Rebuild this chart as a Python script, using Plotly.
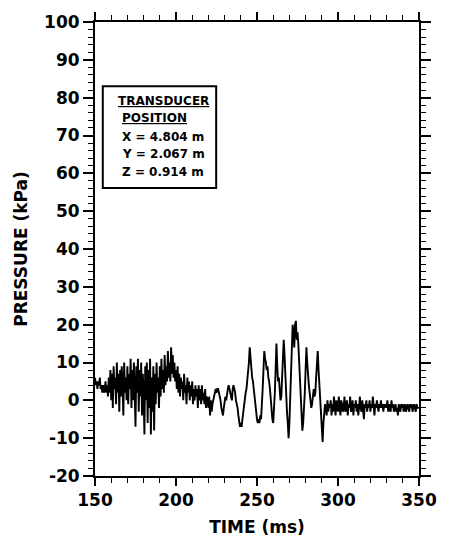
import numpy as np
import plotly.graph_objects as go

# time grid (ms), 0.5 ms sampling
t_start, t_end, t_step = 150.0, 350.0, 0.5
time_ms = list(np.arange(t_start, t_end + t_step / 2, t_step))

# pressure (kPa), 10 values per 5 ms
pressure_kpa = [
    6, 4, 5, 3, 5, 4, 6, 3, 4, 2,
    4, 2, 3, 5, 2, 4, 1, 6, 2, 8,
    0, 7, -2, 9, 3, 6, -1, 10, 2, 7,
    -3, 8, 1, 9, 4, -4, 10, 2, 6, 0,
    9, -1, 7, 3, 11, -2, 8, 0, 10, 4,
    -7, 9, 2, 11, -3, 8, 1, 10, -4, 7,
    2, -9, 9, 0, 10, -6, 8, -2, 11, -9,
    6, -3, 9, -8, 7, -1, 10, 2, 6, -2,
    9, 1, 11, 3, 8, 2, 12, 4, 9, 5,
    13, 6, 10, 5, 14, 7, 12, 6, 10, 5,
    8, 3, 9, 2, 7, 1, 6, 3, 5, 0,
    7, 2, 4, -1, 6, 2, 5, 0, 4, 1,
    5, -1, 3, 0, 4, 1, 3, -2, 4, 0,
    3, -1, 4, 0, 2, -1, 3, -2, 1, 0,
    -2, 1, -4, 0, -3, -1, 0, 1, 2, 3,
    2, 3, 3, 2, 1, 0, -2, -3, -4, -2,
    0, 1, 0, 2, 3, 4, 3, 2, 1, 0,
    3, 4, 3, 2, 0, -1, -2, -4, -6, -7,
    -6, -7, -5, -3, -2, 0, 2, 3, 5, 8,
    10, 14, 11, 8, 6, 5, 3, 1, -2, -4,
    -5, -6, -5, -6, -4, -5, -2, 3, 8, 13,
    11, 10, 8, 9, 6, 5, 3, 0, -3, -5,
    -6, -3, 2, 8, 15, 9, 5, 6, 3, 0,
    1, 5, 10, 16, 12, 6, 2, -3, -6, -10,
    -6, 0, 8, 15, 20, 18, 14, 20, 21, 16,
    18, 15, 10, 5, 0, -5, -8, -6, -3, 2,
    8, 14, 10, 6, 4, 2, 0, -2, -1, 2,
    3, 1, 2, 6, 10, 13, 8, 4, 0, -4,
    -7, -11, -6, -3, -1, -2, -4, 0, -3, -1,
    -2, 0, -4, -1, -3, 1, -2, -4, 0, -2,
    -3, 1, -2, -4, 0, -1, -3, -2, 1, -3,
    -2, 0, -4, -1, -2, 1, -3, -2, 0, -4,
    -1, -2, 0, -3, -1, -4, -2, 1, -2, -3,
    0, -2, -5, -1, -2, 0, -3, -1, -2, 0,
    -3, -1, -2, 1, -2, -4, -1, -2, 0, -2,
    -3, -1, -2, 0, -2, -1, -3, -1, -2, -1,
    -2, 0, -3, -1, -2, -3, 0, -2, -1, -3,
    -2, -1, -3, -2, -4, -1, -2, -3, -1, -2,
    -1, -3, -2, -1, -3, -2, -1, -2, -3, -1,
    -2, -1, -3, -2, -1, -2, -3, -1, -2, -2,
    -2,
]

x_ticks = [150, 200, 250, 300, 350]
y_ticks = [-20, -10, 0, 10, 20, 30, 40, 50, 60, 70, 80, 90, 100]
y_tick_text = [str(v) for v in y_ticks]  # plain hyphen minus as in the original

box_title = ["TRANSDUCER", "POSITION"]
box_lines = ["X = 4.804 m", "Y = 2.067 m", "Z = 0.914 m"]

FONT = "DejaVu Sans"

fig = go.Figure()
fig.add_trace(go.Scatter(x=time_ms, y=pressure_kpa, mode="lines",
                         line=dict(color="black", width=1.9),
                         showlegend=False, hoverinfo="skip"))

axis_common = dict(
    showline=True, linecolor="black", linewidth=2, mirror="ticks",
    ticks="outside", tickcolor="black", tickwidth=1.5,
    showgrid=False, zeroline=False,
    tickfont=dict(family=FONT, size=17, color="black", weight="bold"),
)

fig.update_xaxes(range=[150, 350], tickvals=x_ticks, ticktext=[str(v) for v in x_ticks],
                 ticklen=8,
                 minor=dict(dtick=10, tick0=150, ticklen=5, tickcolor="black", ticks="outside", tickwidth=1),
                 title=dict(text="TIME (ms)", standoff=12,
                            font=dict(family=FONT, size=17, color="black", weight="bold")),
                 **axis_common)
fig.update_yaxes(range=[-20, 100], tickvals=y_ticks, ticktext=y_tick_text, ticklen=10,
                 minor=dict(dtick=2, tick0=0, ticklen=5, tickcolor="black", ticks="outside", tickwidth=1),
                 title=dict(text="PRESSURE (kPa)", standoff=12,
                            font=dict(family=FONT, size=17, color="black", weight="bold")),
                 **axis_common)

# legend-like box
fig.add_shape(type="rect", xref="x", yref="y", x0=154.8, x1=224.8, y0=56.1, y1=83.0,
              line=dict(color="black", width=2), fillcolor="white")

ys = [79.0, 74.6, 69.6, 65.1, 60.4]
xs = [163.0, 165.5, 165.5, 165.5, 165.5]
texts = ["<u>" + box_title[0] + "</u>", "<u>" + box_title[1] + "</u>"] + box_lines
for xv, yv, tx in zip(xs, ys, texts):
    fig.add_annotation(x=xv, y=yv, xref="x", yref="y", text=tx, showarrow=False,
                       xanchor="left", yanchor="middle",
                       font=dict(family=FONT, size=12, color="black", weight="bold"))

fig.update_layout(width=449, height=549, margin=dict(l=95, r=19, t=17, b=73),
                  paper_bgcolor="white", plot_bgcolor="white")

fig.write_html("out.html")
